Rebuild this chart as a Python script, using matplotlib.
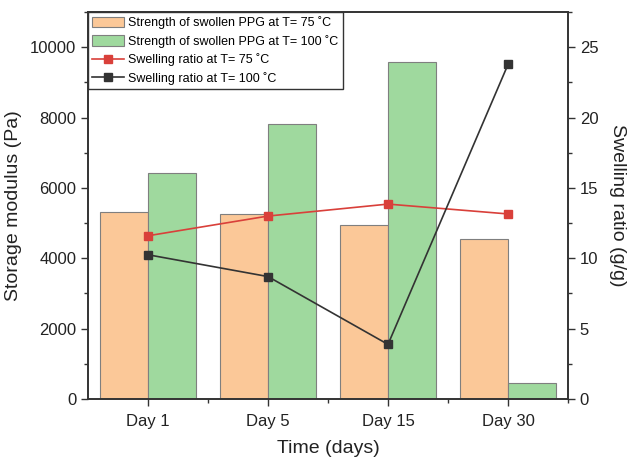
import numpy as np
import matplotlib.pyplot as plt
from matplotlib.ticker import MultipleLocator

plt.rcParams['font.family'] = ['Liberation Sans', 'DejaVu Sans']

days = ["Day 1", "Day 5", "Day 15", "Day 30"]
strength_75 = [5320, 5260, 4935, 4540]
strength_100 = [6420, 7815, 9575, 455]
swelling_75 = [11.6, 13.0, 13.85, 13.15]
swelling_100 = [10.25, 8.7, 3.88, 23.77]

x = np.arange(1, len(days) + 1)
w = 0.4

fig = plt.figure(figsize=(6.3, 4.61), dpi=100)
ax = fig.add_axes([88 / 630, 1 - 399 / 461, 480 / 630, 387 / 461])
ax2 = ax.twinx()

b1 = ax.bar(x - w / 2, strength_75, w, color="#fbc898", edgecolor="#7f7f7f", linewidth=0.8,
            label="Strength of swollen PPG at T= 75 \u02daC")
b2 = ax.bar(x + w / 2, strength_100, w, color="#9fd99e", edgecolor="#7f7f7f", linewidth=0.8,
            label="Strength of swollen PPG at T= 100 \u02daC")

l1, = ax2.plot(x, swelling_75, color="#d9403a", marker="s", markersize=6, linewidth=1.2,
               label="Swelling ratio at T= 75 \u02daC")
l2, = ax2.plot(x, swelling_100, color="#333333", marker="s", markersize=6, linewidth=1.2,
               label="Swelling ratio at T= 100 \u02daC")

ax.set_xlim(0.5, 4.5)
ax.set_ylim(0, 11000)
ax2.set_ylim(0, 27.5)
ax.set_xticks(x)
ax.set_xticklabels(days)
ax.set_xticks(np.arange(1.5, 4.6, 1), minor=True)
ax.set_yticks(np.arange(0, 10001, 2000))
ax.yaxis.set_minor_locator(MultipleLocator(1000))
ax2.set_yticks(np.arange(0, 26, 5))
ax2.yaxis.set_minor_locator(MultipleLocator(2.5))

for a in (ax, ax2):
    a.tick_params(which="major", direction="out", length=5, width=1, labelsize=12,
                  color="#333333", labelcolor="#222222")
    a.tick_params(which="minor", direction="out", length=3, width=1, color="#333333")
    for s in a.spines.values():
        s.set_linewidth(1.2)
        s.set_color("#333333")
ax.tick_params(axis="x", pad=6)

ax.set_xlabel("Time (days)", fontsize=14, labelpad=8, color="#222222")
ax.set_ylabel("Storage modulus (Pa)", fontsize=14, labelpad=6, color="#222222")
ax2.set_ylabel("Swelling ratio (g/g)", fontsize=14, rotation=270, labelpad=20, color="#222222")

leg = ax.legend([b1, b2, l1, l2], [b1.get_label(), b2.get_label(), l1.get_label(), l2.get_label()],
                loc="upper left", bbox_to_anchor=(0, 1), fontsize=9.0, frameon=True, fancybox=False,
                borderaxespad=0, handlelength=2.5, handleheight=0.95, handletextpad=0.35,
                labelspacing=0.45, borderpad=0.35, framealpha=1)
leg.get_frame().set_edgecolor("#333333")
leg.get_frame().set_linewidth(1.0)
leg.set_zorder(5)

fig.savefig("out.png", dpi=100)
